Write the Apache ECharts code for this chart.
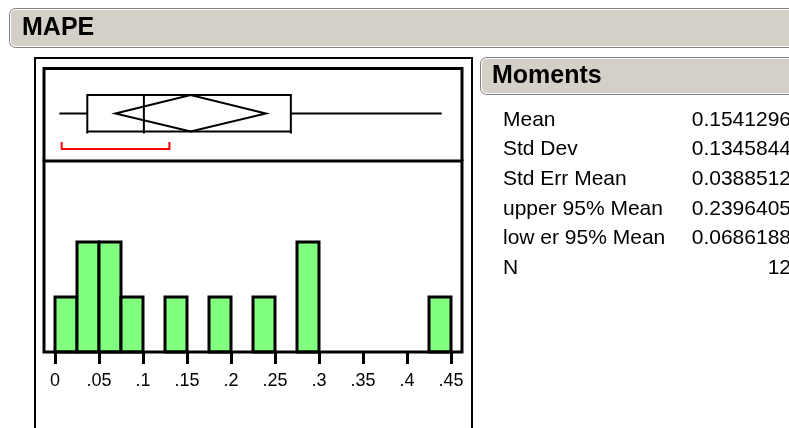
<!DOCTYPE html>
<html>
<head>
<meta charset="utf-8" />
<title>MAPE</title>
<script src="https://cdn.jsdelivr.net/npm/echarts@6/dist/echarts.min.js"></script>
<style>
  html, body { margin: 0; padding: 0; background: #fff; }
  #main { width: 789px; height: 428px; }
</style>
</head>
<body>
<div id="main"></div>
<script type="text/javascript">
// histogram bins (start of each bin, width 0.025) and counts
var binStart = [0, 0.025, 0.05, 0.075, 0.125, 0.175, 0.225, 0.275, 0.425];
var binCount = [1, 2, 2, 1, 1, 1, 1, 2, 1];
var binWidth = 0.025;
var tickLabels = ['0', '.05', '.1', '.15', '.2', '.25', '.3', '.35', '.4', '.45'];

// outlier box plot: min, q1, median, q3, max
var quantiles = [0.005, 0.0367, 0.101, 0.268, 0.4394];
// means diamond: lower 95%, mean, upper 95%
var meanDiamond = [0.0686188, 0.1541296, 0.2396405];
// shortest half bracket
var shortestHalf = [0.0076, 0.13];

var momentNames = ['Mean', 'Std Dev', 'Std Err Mean', 'upper 95% Mean', 'low er 95% Mean', 'N'];
var momentValues = ['0.1541296', '0.1345844', '0.0388512', '0.2396405', '0.0686188', '12'];

var FONT = '"Liberation Sans", Arial, sans-serif';

var myChart = echarts.init(document.getElementById('main'));

var histData = binStart.map(function (s, i) { return [s, s + binWidth, binCount[i]]; });

// header bar: grey outline, white inner highlight, light fill
function header(x, y, w, h, label, tx) {
    return [
        { type: 'rect', shape: { x: x + 0.5, y: y + 0.5, width: w, height: h, r: 6 },
          style: { fill: '#d4d0c8', stroke: '#808080', lineWidth: 1 } },
        { type: 'rect', shape: { x: x + 1.5, y: y + 1.5, width: w - 2, height: h - 2, r: 5 },
          style: { fill: null, stroke: '#ffffff', lineWidth: 1 } },
        { type: 'text', x: tx, y: y + h / 2 + 1,
          style: { text: label, font: 'bold 25px ' + FONT, fill: '#000', textVerticalAlign: 'middle' } }
    ];
}

var graphics = [].concat(
    header(9, 8, 800, 39, 'MAPE', 22),
    header(480, 57, 330, 37, 'Moments', 492),
    [
        // outer frame
        { type: 'polyline', shape: { points: [[35, 440], [35, 58], [472, 58], [472, 440]] },
          style: { stroke: '#000', lineWidth: 2, fill: null } },
        // box plot frame (shares its bottom with the histogram frame)
        { type: 'polyline', shape: { points: [[44, 161], [44, 68.5], [462, 68.5], [462, 161]] },
          style: { fill: null, stroke: '#000', lineWidth: 3 } },
        // histogram frame
        { type: 'rect', shape: { x: 44, y: 161, width: 418, height: 191 },
          style: { fill: null, stroke: '#000', lineWidth: 3 }, z: 10 }
    ]
);
momentNames.forEach(function (name, i) {
    var y = 120 + i * 29.6;
    graphics.push({ type: 'text', x: 503, y: y,
        style: { text: name, font: '21px ' + FONT, fill: '#000', textVerticalAlign: 'middle' } });
    graphics.push({ type: 'text', x: 791, y: y,
        style: { text: momentValues[i], font: '21px ' + FONT, fill: '#000', textAlign: 'right', textVerticalAlign: 'middle' } });
});

var option = {
    animation: false,
    backgroundColor: '#fff',
    graphic: graphics,
    grid: [
        { left: 55, right: 338, top: 161, bottom: 76 },
        { left: 55, right: 338, top: 68, height: 90 }
    ],
    xAxis: [
        {
            type: 'value', gridIndex: 0, min: 0, max: 0.45, interval: 0.05,
            axisLine: { show: false },
            axisTick: { show: true, length: 12, lineStyle: { color: '#000', width: 3 } },
            splitLine: { show: false },
            axisLabel: {
                margin: 20, color: '#000', fontSize: 18, fontFamily: FONT,
                formatter: function (v) { return tickLabels[Math.round(v / 0.05)]; }
            }
        },
        { type: 'value', gridIndex: 1, min: 0, max: 0.45, show: false }
    ],
    yAxis: [
        { type: 'value', gridIndex: 0, min: 0, max: 3.47, show: false },
        { type: 'value', gridIndex: 1, min: 0, max: 1, show: false }
    ],
    series: [
        {
            type: 'custom', xAxisIndex: 0, yAxisIndex: 0,
            data: histData,
            renderItem: function (params, api) {
                var p0 = api.coord([api.value(0), 0]);
                var p1 = api.coord([api.value(1), api.value(2)]);
                return {
                    type: 'rect',
                    shape: { x: p0[0], y: p1[1], width: p1[0] - p0[0], height: p0[1] - p1[1] },
                    style: { fill: '#80ff80', stroke: '#000', lineWidth: 3 }
                };
            }
        },
        {
            type: 'custom', xAxisIndex: 1, yAxisIndex: 1,
            data: [[0]],
            renderItem: function (params, api) {
                var top = params.coordSys.y;
                var cy = top + 45.5, b0 = top + 27, b1 = top + 63.5;
                function X(v) { return api.coord([v, 0])[0]; }
                var q = quantiles.map(X);
                var d = meanDiamond.map(X);
                var s = shortestHalf.map(X);
                var line = { stroke: '#000', lineWidth: 2 };
                var red = { stroke: '#ff0000', lineWidth: 2 };
                return {
                    type: 'group',
                    children: [
                        { type: 'line', shape: { x1: q[0], y1: cy, x2: q[1], y2: cy }, style: line },
                        { type: 'line', shape: { x1: q[3], y1: cy, x2: q[4], y2: cy }, style: line },
                        { type: 'rect', shape: { x: q[1], y: b0, width: q[3] - q[1], height: b1 - b0 }, style: { fill: null, stroke: '#000', lineWidth: 2 } },
                        { type: 'line', shape: { x1: q[2], y1: b0, x2: q[2], y2: b1 + 2 }, style: line },
                        { type: 'line', shape: { x1: q[1], y1: b1, x2: q[1], y2: b1 + 2 }, style: line },
                        { type: 'line', shape: { x1: q[3], y1: b1, x2: q[3], y2: b1 + 2 }, style: line },
                        { type: 'polygon', shape: { points: [[d[0], cy], [d[1], b0], [d[2], cy], [d[1], b1]] }, style: { fill: null, stroke: '#000', lineWidth: 2 } },
                        { type: 'line', shape: { x1: s[0], y1: top + 81, x2: s[1], y2: top + 81 }, style: red },
                        { type: 'line', shape: { x1: s[0], y1: top + 74, x2: s[0], y2: top + 82 }, style: red },
                        { type: 'line', shape: { x1: s[1], y1: top + 74, x2: s[1], y2: top + 82 }, style: red }
                    ]
                };
            }
        }
    ]
};

myChart.setOption(option);
</script>
</body>
</html>
